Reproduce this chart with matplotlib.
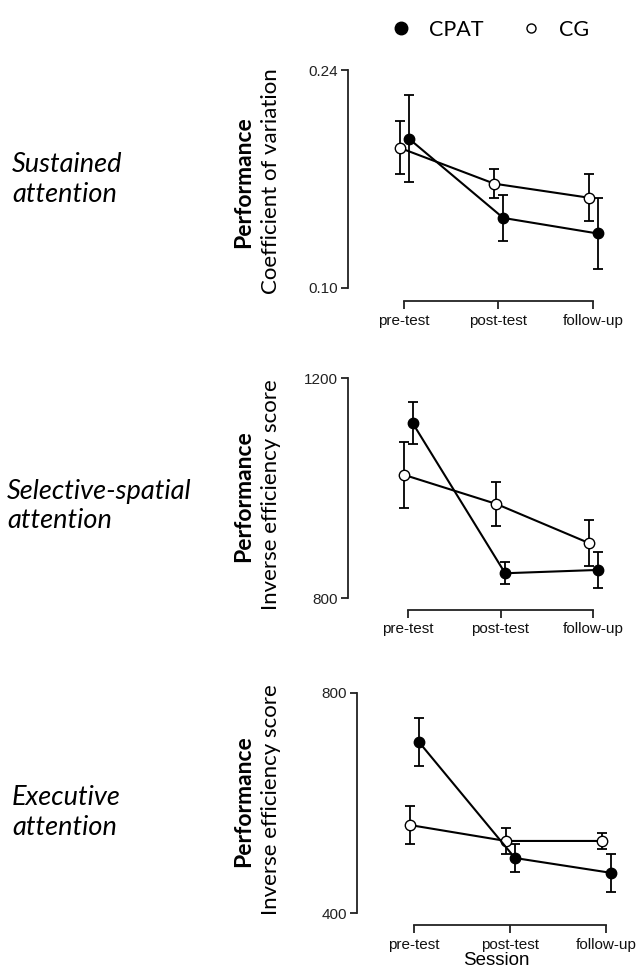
import matplotlib
matplotlib.use("Agg")
import matplotlib.pyplot as plt
from matplotlib.lines import Line2D

# data
sessions = ["pre-test", "post-test", "follow-up"]

cpat_cv = [0.196, 0.145, 0.135]
cpat_cv_err = [0.028, 0.015, 0.023]
cg_cv = [0.190, 0.167, 0.158]
cg_cv_err = [0.017, 0.0095, 0.015]

cpat_sel = [1118, 845, 851]
cpat_sel_err = [38, 20, 33]
cg_sel = [1024, 971, 900]
cg_sel_err = [60, 40, 41]

cpat_exe = [711, 500, 473]
cpat_exe_err = [44, 25, 35]
cg_exe = [560, 531, 531]
cg_exe_err = [34, 24, 15]

W, H = 637, 971
fig = plt.figure(figsize=(W / 100, H / 100), dpi=100)

label_font = ["Lato", "DejaVu Sans"]
tick_font = ["Liberation Sans", "DejaVu Sans"]


def px_axes(l, r, top, bottom):
    return fig.add_axes([l / W, 1 - bottom / H, (r - l) / W, (bottom - top) / H])


def panel(ax, cpat, cpat_err, cg, cg_err, yb, xlim, ylim, ticks, ticklabels):
    x = range(len(sessions))
    xcg = [i - 0.045 for i in x]
    xcp = [i + 0.05 for i in x]
    ax.errorbar(xcg, cg, yerr=cg_err, fmt='o-', color='black', mfc='white',
                mec='black', ms=7.5, lw=1.5, elinewidth=1.3, capsize=3.5,
                capthick=1.3, zorder=3)
    ax.errorbar(xcp, cpat, yerr=cpat_err, fmt='o-', color='black', mfc='black',
                ms=7.5, lw=1.5, elinewidth=1.3, capsize=3.5, capthick=1.3,
                zorder=3)
    ax.set_xlim(*xlim)
    ax.set_ylim(*ylim)
    for s in ['top', 'right']:
        ax.spines[s].set_visible(False)
    ax.spines['left'].set_bounds(*yb)
    ax.spines['bottom'].set_bounds(0, 2)
    for s in ['left', 'bottom']:
        ax.spines[s].set_linewidth(1.3)
        ax.spines[s].set_color('#222222')
    ax.set_yticks(ticks)
    ax.set_yticklabels(ticklabels, fontfamily=tick_font, fontsize=11, color='#222222')
    ax.set_xticks(list(x))
    ax.set_xticklabels(sessions, fontfamily=tick_font, fontsize=11, color='#111111')
    ax.tick_params(axis='y', length=5, width=1.3, color='#222222', pad=2)
    ax.tick_params(axis='x', length=6, width=1.3, color='#222222', pad=3)
    ax.patch.set_alpha(0)


# panel 1: sustained attention
ax1 = px_axes(348, 630, 60, 301)
panel(ax1, cpat_cv, cpat_cv_err, cg_cv, cg_cv_err, (0.10, 0.24),
      (-0.593, 2.392), (0.10 - 13 / 1557, 0.24 + 10 / 1557),
      [0.10, 0.24], ["0.10", "0.24"])

# panel 2: selective-spatial attention
ax2 = px_axes(348, 630, 368, 610)
panel(ax2, cpat_sel, cpat_sel_err, cg_sel, cg_sel_err, (800, 1200),
      (-0.649, 2.4), (800 - 12 / 0.55, 1200 + 10 / 0.55),
      [800, 1200], ["800", "1200"])

# panel 3: executive attention
ax3 = px_axes(357, 636, 683, 925)
panel(ax3, cpat_exe, cpat_exe_err, cg_exe, cg_exe_err, (400, 800),
      (-0.594, 2.31), (400 - 12 / 0.55, 800 + 10 / 0.55),
      [400, 800], ["400", "800"])
ax3.set_xlabel("Session", fontfamily=tick_font, fontsize=13.5, labelpad=0)

# y labels
ylabels = [("Coefficient of variation", 181), ("Inverse efficiency score", 495),
           ("Inverse efficiency score", 800)]
for txt, yc in ylabels:
    fig.text(271 / W, 1 - yc / H, txt, rotation=90, ha='center', va='center',
             fontfamily=label_font, fontsize=16)
    fig.text(244 / W, 1 - (yc + 1) / H, "Performance", rotation=90, ha='center',
             va='center', fontfamily=label_font, fontsize=16.5, fontweight='bold')

# row titles
titles = [("Sustained\nattention", 180, 12), ("Selective-spatial\nattention", 506, 7),
          ("Executive\nattention", 812, 12)]
for txt, yc, xl in titles:
    fig.text(xl / W, 1 - yc / H, txt, ha='left', va='center', fontfamily=label_font,
             fontsize=19.5, fontstyle='italic', linespacing=1.25)

# legend
handles = [Line2D([], [], ls='', marker='o', color='black', ms=9, label='CPAT'),
           Line2D([], [], ls='', marker='o', mfc='white', mec='black', ms=6.5,
                  mew=1, label='CG')]
fig.legend(handles=handles, loc='center', bbox_to_anchor=(490 / W, 1 - 30 / H),
           ncol=2, frameon=False, prop={'family': label_font, 'size': 15.5},
           handletextpad=0.8, columnspacing=1.7, handlelength=1.0)

fig.savefig("out.png", dpi=100)
